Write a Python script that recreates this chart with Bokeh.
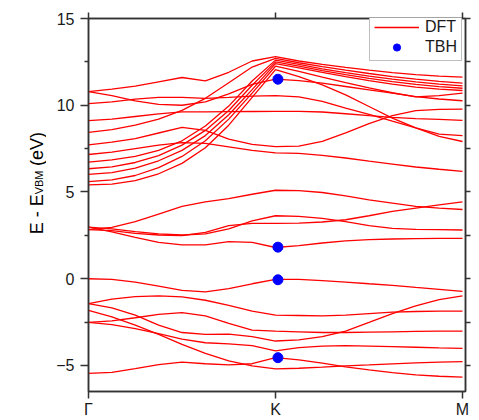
from math import pi
from bokeh.plotting import figure
from bokeh.layouts import row
from bokeh.models import (FixedTicker, LinearAxis, Range1d, Legend, LegendItem)
from bokeh.core.properties import value
from bokeh.embed import file_html
from bokeh.resources import INLINE

# ---------------- data ----------------
kpath_labels = ["Γ", "K", "M"]
kpath_pos = [0, 1, 2]
kgrid = [0, 0.125, 0.25, 0.375, 0.5, 0.625, 0.75, 0.875, 1.0,
         1.125, 1.25, 1.375, 1.5, 1.625, 1.75, 1.875, 2.0]

# DFT bands (eV), sampled along Γ-K-M
c1 = [10.79, 10.93, 11.10, 11.35, 11.60, 11.40, 11.90, 12.55, 12.80, 12.55, 12.35, 12.18, 12.02, 11.88, 11.77, 11.68, 11.62]
c2 = [10.79, 10.55, 10.25, 10.05, 10.00, 10.20, 10.65, 11.20, 11.50, 11.42, 11.27, 11.08, 10.89, 10.70, 10.50, 10.36, 10.26]
c3 = [10.09, 10.20, 10.35, 10.45, 10.45, 10.40, 10.45, 10.52, 10.55, 10.48, 10.22, 9.84, 9.48, 9.08, 8.69, 8.34, 8.25]
c4 = [9.11, 9.20, 9.35, 9.50, 9.62, 9.62, 9.63, 9.64, 9.65, 9.65, 9.61, 9.51, 9.40, 9.30, 9.23, 9.18, 9.13]
c5 = [8.44, 8.60, 8.85, 9.20, 9.70, 10.40, 11.30, 12.20, 12.70, 12.45, 12.22, 12.02, 11.83, 11.65, 11.50, 11.37, 11.27]
c6 = [7.72, 7.87, 8.08, 8.40, 8.72, 8.55, 8.05, 7.74, 7.62, 7.64, 7.92, 8.41, 8.94, 9.40, 9.69, 9.76, 9.78]
c7 = [7.16, 7.30, 7.50, 7.70, 7.85, 7.80, 7.60, 7.40, 7.26, 7.22, 7.11, 6.96, 6.78, 6.61, 6.44, 6.31, 6.19]
c8 = [6.72, 6.85, 7.05, 7.40, 7.95, 8.80, 9.95, 11.40, 12.60, 12.35, 12.10, 11.88, 11.68, 11.50, 11.35, 11.22, 11.12]
c9 = [6.34, 6.45, 6.70, 7.10, 7.70, 8.55, 9.70, 11.15, 12.50, 12.25, 12.00, 11.76, 11.55, 11.36, 11.20, 11.07, 10.98]
c10 = [6.02, 6.12, 6.38, 6.80, 7.40, 8.25, 9.45, 10.90, 12.40, 12.15, 11.90, 11.65, 11.42, 11.22, 11.05, 10.93, 10.85]
c11 = [5.60, 5.70, 5.95, 6.40, 7.05, 7.95, 9.20, 10.70, 12.25, 11.95, 11.62, 11.30, 11.00, 10.72, 10.48, 10.55, 10.70]
c12 = [5.41, 5.45, 5.65, 6.05, 6.65, 7.55, 8.85, 10.45, 12.05, 11.65, 11.17, 10.60, 9.93, 9.26, 8.69, 8.21, 7.91]
m1 = [2.83, 2.96, 3.29, 3.73, 4.17, 4.43, 4.62, 4.87, 5.10, 5.08, 4.97, 4.78, 4.55, 4.36, 4.17, 4.07, 3.99]
m2 = [2.98, 2.87, 2.71, 2.58, 2.52, 2.58, 2.87, 3.34, 3.63, 3.59, 3.48, 3.29, 3.06, 2.90, 2.85, 2.83, 2.81]
m3 = [2.83, 2.77, 2.62, 2.52, 2.48, 2.67, 3.06, 3.19, 3.19, 3.21, 3.27, 3.40, 3.63, 3.88, 4.07, 4.26, 4.43]
m4 = [2.98, 2.70, 2.39, 2.10, 1.95, 1.95, 2.14, 2.10, 1.80, 1.91, 2.06, 2.18, 2.25, 2.29, 2.31, 2.33, 2.33]
v1 = [0.00, -0.04, -0.19, -0.42, -0.67, -0.76, -0.57, -0.29, -0.04, -0.04, -0.11, -0.19, -0.29, -0.38, -0.50, -0.61, -0.73]
va = [-1.43, -1.18, -1.03, -0.99, -1.05, -1.24, -1.53, -1.87, -2.10, -2.12, -2.14, -2.10, -2.01, -1.93, -1.89, -1.87, -1.87]
vb = [-2.52, -2.43, -2.25, -2.06, -1.95, -2.14, -2.58, -2.96, -3.02, -3.06, -3.10, -3.10, -3.08, -3.06, -3.04, -3.02, -3.02]
vc = [-1.43, -1.68, -2.10, -2.67, -3.10, -3.21, -3.19, -3.34, -3.59, -3.52, -3.34, -3.02, -2.52, -2.01, -1.57, -1.20, -0.99]
vd = [-2.52, -2.64, -2.87, -3.17, -3.48, -3.69, -3.76, -3.86, -4.16, -3.97, -3.88, -3.86, -3.88, -3.91, -3.95, -3.99, -4.01]
ve = [-1.82, -2.20, -2.67, -3.21, -3.78, -4.30, -4.74, -5.02, -5.20, -5.16, -5.10, -5.02, -4.97, -4.91, -4.85, -4.81, -4.78]
vf = [-5.46, -5.40, -5.18, -4.95, -4.81, -4.90, -4.97, -4.90, -4.55, -4.68, -4.87, -5.08, -5.25, -5.41, -5.54, -5.62, -5.67]

dft_bands = [c1, c2, c3, c4, c5, c6, c7, c8, c9, c10, c11, c12,
             m1, m2, m3, m4, v1, va, vb, vc, vd, ve, vf]

# TBH points at K
tbh_k = [1.013, 1.013, 1.013, 1.013]
tbh_e = [11.50, 1.82, -0.06, -4.55]

y_major = [-5, 0, 5, 10, 15]
y_minor = [-2.5, 2.5, 7.5, 12.5]

ylabel_parts = ["E - E", "VBM", "(eV)"]

FONT = "Liberation Sans"
AX = "#333333"
LW = 46  # width of the y-label strip

# ---------------- y-label strip ----------------
lab = figure(width=LW, height=420, x_range=Range1d(0, LW), y_range=Range1d(0, 420),
             output_backend="svg", toolbar_location=None,
             x_axis_location=None, y_axis_location=None,
             min_border_left=0, min_border_right=0, min_border_top=0, min_border_bottom=0)
lab.grid.visible = False
lab.outline_line_color = None
lab.text(x=[36], y=[177], text=[ylabel_parts[0]], angle=pi / 2,
         text_align="left", text_baseline="alphabetic",
         text_font=value(FONT), text_font_size="18px", text_color="black")
lab.text(x=[38.5], y=[222], text=[ylabel_parts[1]], angle=pi / 2,
         text_align="left", text_baseline="alphabetic",
         text_font=value(FONT), text_font_size="11px", text_color="black")
lab.text(x=[36], y=[254], text=[ylabel_parts[2]], angle=pi / 2,
         text_align="left", text_baseline="alphabetic",
         text_font=value(FONT), text_font_size="18px", text_color="black")

# ---------------- main plot ----------------
p = figure(width=479 - LW, height=420,
           x_range=Range1d(0, 2.016), y_range=Range1d(-6.5, 15),
           output_backend="svg", toolbar_location=None,
           min_border_left=88 - LW, min_border_right=14,
           min_border_top=18, min_border_bottom=27)
p.grid.visible = False
p.outline_line_color = AX
p.outline_line_width = 1.5

lines = p.multi_line([kgrid] * len(dft_bands), dft_bands,
                     line_color="#ff0000", line_width=1.3)
dots = p.scatter(tbh_k, tbh_e, size=10, fill_color="#0000ff",
                 line_color="#0000ff")

xt = FixedTicker(ticks=kpath_pos, minor_ticks=[])
yt = FixedTicker(ticks=y_major, minor_ticks=y_minor)

def style(ax, tick_out, minor_out, show_labels, standoff=6):
    ax.axis_line_color = AX
    ax.axis_line_width = 1.5
    ax.major_tick_line_color = AX
    ax.minor_tick_line_color = AX
    ax.major_tick_line_width = 1.5
    ax.minor_tick_line_width = 1.5
    ax.major_tick_in = 0
    ax.minor_tick_in = 0
    ax.major_tick_out = tick_out
    ax.minor_tick_out = minor_out
    if show_labels:
        ax.major_label_text_font = FONT
        ax.major_label_text_font_size = "16px"
        ax.major_label_text_color = "#1a1a1a"
        ax.major_label_standoff = standoff
    else:
        ax.major_label_text_font_size = "0px"
        ax.major_label_text_color = None
        ax.major_label_standoff = 0

bx = p.xaxis[0]
bx.ticker = xt
bx.major_label_overrides = {pos: name for pos, name in zip(kpath_pos, kpath_labels)}
style(bx, 7, 0, True, standoff=2)
ly = p.yaxis[0]
ly.ticker = yt
style(ly, 8, 4, True, standoff=6)

tx = LinearAxis(ticker=xt)
style(tx, 6, 0, False)
p.add_layout(tx, "above")
ry = LinearAxis(ticker=yt)
style(ry, 5, 5, False)
p.add_layout(ry, "right")

legend = Legend(items=[LegendItem(label="DFT", renderers=[lines]),
                       LegendItem(label="TBH", renderers=[dots])],
                location=(281, 330), margin=0, padding=4, spacing=2,
                glyph_width=45, glyph_height=18, label_height=18,
                label_standoff=6, label_text_font=FONT,
                label_text_font_size="16px", label_text_color="#1a1a1a",
                border_line_color="#808080", border_line_width=1.2,
                background_fill_color="white", background_fill_alpha=1.0)
p.add_layout(legend)

layout = row(lab, p)
open("out.html", "w").write(file_html(layout, INLINE))
